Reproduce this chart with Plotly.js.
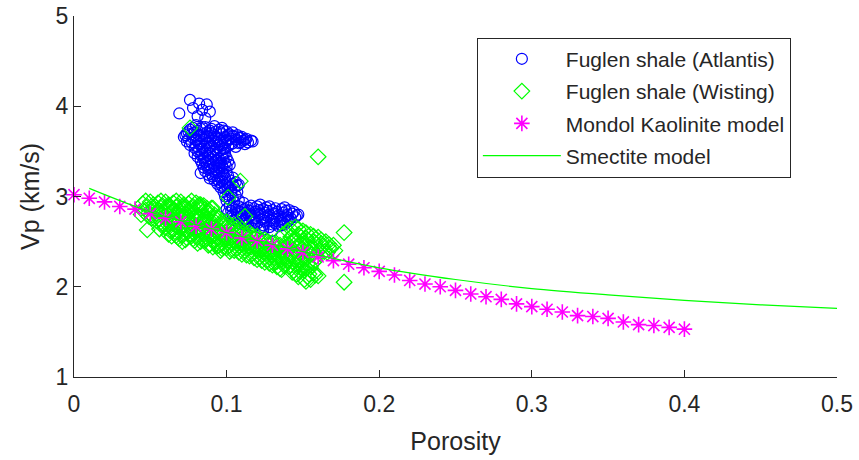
<!DOCTYPE html>
<html><head><meta charset="utf-8">
<script src="https://cdn.plot.ly/plotly-3.0.1.min.js"></script>
<style>html,body{margin:0;padding:0;background:#fff}#chart{width:859px;height:460px}</style>
</head><body><div id="chart"></div>
<script>
// ---------- data ----------
const atlantisPorosity = [
 0.069,0.076,0.078,0.082,0.084,0.087,0.089,0.081,0.086,
 0.080,0.086,0.092,
 0.076,0.083,0.089,0.095,0.100,
 0.074,0.079,0.085,0.090,0.096,0.102,0.107,
 0.072,0.078,0.083,0.088,0.093,0.099,0.104,0.109,0.113,
 0.074,0.080,0.085,0.091,0.096,0.101,0.106,0.111,0.116,
 0.076,0.082,0.087,0.092,0.097,0.103,0.108,0.112,
 0.079,0.084,0.089,0.094,0.099,
 0.081,0.086,0.091,0.096,
 0.083,0.088,0.093,0.098,
 0.085,0.090,0.095,0.100,
 0.086,0.091,0.096,0.101,
 0.087,0.092,0.097,0.102,
 0.088,0.093,0.098,
 0.083,0.090,0.095,0.100,
 0.091,0.096,0.101,
 0.092,0.097,0.102,0.106,
 0.094,0.099,0.104,
 0.096,0.101,0.105,
 0.098,0.103,0.107,
 0.099,0.104,
 0.100,0.105,0.111,
 0.102,0.108,0.116,0.122,0.128,
 0.100,0.106,0.112,0.118,0.124,0.130,0.136,0.141,
 0.101,0.107,0.113,0.119,0.125,0.131,0.137,0.143,0.147,
 0.103,0.109,0.115,0.121,0.127,0.133,0.139,0.145,
 0.105,0.111,0.117,0.123,0.129,0.135,0.141,
 0.108,0.114,0.120,0.126,0.132,0.138,
 0.116,0.122,0.128,0.134,
 0.124,0.130,
 0.078,0.084,0.090,0.097,
 0.075,0.081,0.087,0.093,0.098,0.104,
 0.073,0.077,0.082,0.087,0.092,0.097,0.101,0.105,0.110,
 0.075,0.080,0.086,0.090,0.095,0.100,0.103,0.108,0.112,0.117,
 0.077,0.083,0.088,0.093,0.099,0.104,0.109,0.114,
 0.080,0.085,0.090,0.095,0.101,0.106,
 0.082,0.087,0.093,0.098,
 0.079,0.084,0.089,0.094,0.099,
 0.081,0.086,0.091,0.097,
 0.083,0.088,0.093,0.098,
 0.084,0.089,0.094,0.099,
 0.085,0.090,0.095,0.100,
 0.086,0.092,0.097,
 0.088,0.093,0.098,
 0.089,0.094,0.099,0.104,
 0.095,0.100,0.108,
 0.097,0.102,0.107,
 0.099,0.103,
 0.101,0.106,
 0.102,0.108,
 0.104,0.110,0.114,0.120,0.126,0.132,0.138,
 0.103,0.109,0.115,0.121,0.127,0.133,0.139,0.144,
 0.104,0.110,0.116,0.122,0.128,0.134,0.140,0.146,
 0.106,0.112,0.118,0.124,0.130,0.136,0.142,
 0.107,0.113,0.119,0.125,0.131,0.137,0.140,
 0.112,0.118,0.124,0.130,0.136
];
const atlantisVp = [
 3.92,4.07,3.98,4.03,3.96,4.02,3.94,3.89,3.87,
 3.79,3.77,3.78,
 3.74,3.75,3.73,3.74,3.72,
 3.70,3.71,3.69,3.70,3.71,3.69,3.68,
 3.66,3.65,3.67,3.66,3.65,3.66,3.67,3.65,3.64,
 3.61,3.62,3.63,3.62,3.61,3.62,3.63,3.62,3.62,
 3.57,3.58,3.59,3.58,3.57,3.58,3.59,3.58,
 3.54,3.53,3.55,3.54,3.53,
 3.50,3.49,3.50,3.51,
 3.46,3.45,3.46,3.47,
 3.42,3.41,3.42,3.43,
 3.38,3.37,3.38,3.39,
 3.34,3.33,3.34,3.35,
 3.30,3.29,3.31,
 3.26,3.25,3.26,3.27,
 3.22,3.21,3.23,
 3.18,3.17,3.18,3.16,
 3.14,3.13,3.14,
 3.10,3.09,3.10,
 3.05,3.04,3.05,
 3.00,2.99,
 2.95,2.94,2.93,
 2.90,2.89,2.90,2.91,2.89,
 2.86,2.85,2.86,2.87,2.86,2.85,2.86,2.85,
 2.82,2.81,2.82,2.83,2.82,2.81,2.82,2.81,2.80,
 2.78,2.77,2.78,2.79,2.78,2.77,2.78,2.77,
 2.74,2.73,2.74,2.75,2.74,2.73,2.74,
 2.70,2.69,2.70,2.71,2.70,2.69,
 2.66,2.65,2.66,2.67,
 2.63,2.62,
 3.76,3.77,3.75,3.76,
 3.72,3.73,3.71,3.72,3.73,3.71,
 3.68,3.69,3.68,3.67,3.68,3.69,3.68,3.67,3.66,
 3.64,3.63,3.64,3.65,3.64,3.63,3.64,3.65,3.63,3.61,
 3.60,3.59,3.60,3.61,3.60,3.59,3.60,3.60,
 3.56,3.55,3.56,3.57,3.56,3.55,
 3.52,3.51,3.52,3.53,
 3.48,3.47,3.48,3.49,3.48,
 3.44,3.43,3.44,3.45,
 3.40,3.39,3.40,3.41,
 3.36,3.35,3.36,3.37,
 3.32,3.31,3.32,3.33,
 3.28,3.27,3.28,
 3.24,3.23,3.24,
 3.20,3.19,3.20,3.21,
 3.16,3.15,3.13,
 3.12,3.11,3.12,
 3.08,3.07,
 3.02,3.01,
 2.97,2.96,
 2.88,2.87,2.88,2.89,2.88,2.87,2.88,
 2.84,2.83,2.84,2.85,2.84,2.83,2.84,2.83,
 2.80,2.79,2.80,2.81,2.80,2.79,2.80,2.79,
 2.76,2.75,2.76,2.77,2.76,2.75,2.76,
 2.72,2.71,2.72,2.73,2.72,2.71,2.72,
 2.68,2.67,2.68,2.69,2.68
];
const wistingPorosity = [
 0.045,0.047,0.044,
 0.050,0.052,0.049,0.051,
 0.055,0.057,0.054,0.056,0.058,
 0.060,0.062,0.059,0.061,0.063,0.060,0.062,
 0.065,0.067,0.064,0.066,0.068,0.065,0.067,0.069,
 0.070,0.072,0.069,0.071,0.073,0.070,0.072,0.074,0.071,
 0.075,0.077,0.074,0.076,0.078,0.075,0.077,0.079,
 0.080,0.082,0.079,0.081,0.083,0.080,0.082,0.084,0.081,
 0.085,0.087,0.084,0.086,0.088,0.085,0.087,0.089,
 0.090,0.092,0.089,0.091,0.093,0.090,0.092,0.094,
 0.095,0.097,0.094,0.096,0.098,0.095,0.097,
 0.100,0.102,0.099,0.101,0.103,0.100,0.102,
 0.105,0.107,0.104,0.106,0.108,0.105,
 0.110,0.112,0.109,0.111,0.113,0.110,
 0.115,0.117,0.114,0.116,0.118,0.115,
 0.120,0.122,0.119,0.121,0.123,0.120,
 0.125,0.127,0.124,0.126,0.128,0.125,
 0.130,0.132,0.129,0.131,0.133,0.130,
 0.135,0.137,0.134,0.136,0.138,0.135,
 0.140,0.142,0.139,0.141,0.143,0.140,0.142,0.144,
 0.145,0.147,0.144,0.146,0.148,0.145,0.147,0.149,0.146,
 0.150,0.152,0.149,0.151,0.153,0.150,0.152,0.154,0.151,
 0.155,0.157,0.154,0.156,0.158,0.155,0.157,0.155,
 0.160,0.162,0.161,0.160,
 0.165,0.167,0.166,
 0.170,0.171,
 0.048,0.056,0.076,0.109,0.101,0.091,0.083,0.112,0.160,0.177,0.177,
 0.047,0.048,0.046,0.049,
 0.052,0.053,0.051,0.054,
 0.057,0.058,0.056,0.059,0.057,0.058,
 0.062,0.063,0.061,0.064,0.062,0.063,0.064,
 0.067,0.068,0.066,0.069,0.067,0.068,0.066,0.068,
 0.072,0.073,0.071,0.074,0.072,0.073,0.071,0.073,
 0.077,0.078,0.076,0.079,0.077,0.078,0.076,0.078,
 0.082,0.083,0.081,0.084,0.082,0.083,0.081,0.083,
 0.087,0.088,0.086,0.089,0.087,0.088,0.086,0.088,
 0.092,0.093,0.091,0.094,0.092,0.093,0.091,
 0.097,0.098,0.096,0.099,0.097,0.098,0.096,
 0.102,0.103,0.101,0.104,0.102,0.103,
 0.107,0.108,0.106,0.109,0.107,0.108,
 0.112,0.113,0.111,0.114,0.112,0.113,
 0.117,0.118,0.116,0.119,0.117,0.118,
 0.122,0.123,0.121,0.124,0.122,0.123,
 0.127,0.128,0.126,0.129,0.127,0.128,
 0.132,0.133,0.131,0.134,0.132,0.133,
 0.137,0.138,0.136,0.139,0.137,0.138,0.136,
 0.142,0.143,0.141,0.144,0.142,0.143,0.141,0.143,
 0.147,0.148,0.146,0.149,0.147,0.148,0.146,0.148,0.147,
 0.152,0.153,0.151,0.154,0.152,0.153,0.151,0.153,0.152,
 0.157,0.158,0.156,0.159,0.157,0.158,
 0.162,0.163,0.164,
 0.167,0.168
];
const wistingVp = [
 2.92,2.85,2.80,
 2.94,2.88,2.82,2.76,
 2.93,2.87,2.81,2.75,2.70,
 2.94,2.89,2.83,2.77,2.71,2.65,2.58,
 2.93,2.88,2.82,2.76,2.70,2.64,2.57,2.53,
 2.94,2.89,2.84,2.78,2.72,2.66,2.60,2.54,2.50,
 2.92,2.86,2.80,2.74,2.68,2.62,2.56,2.51,
 2.93,2.88,2.82,2.76,2.70,2.64,2.58,2.52,2.48,
 2.90,2.84,2.78,2.72,2.66,2.60,2.54,2.47,
 2.87,2.80,2.74,2.68,2.62,2.56,2.50,2.45,
 2.76,2.70,2.64,2.58,2.52,2.46,2.42,
 2.72,2.66,2.60,2.54,2.48,2.43,2.39,
 2.68,2.62,2.56,2.50,2.45,2.40,
 2.64,2.58,2.52,2.47,2.42,2.36,
 2.60,2.54,2.49,2.44,2.38,2.34,
 2.56,2.50,2.45,2.40,2.35,2.30,
 2.52,2.47,2.42,2.37,2.32,2.27,
 2.49,2.44,2.38,2.33,2.28,2.24,
 2.46,2.41,2.35,2.30,2.25,2.20,
 2.62,2.55,2.48,2.42,2.36,2.30,2.24,2.18,
 2.66,2.58,2.50,2.44,2.38,2.32,2.26,2.20,2.14,
 2.62,2.54,2.47,2.40,2.33,2.27,2.21,2.14,2.08,
 2.58,2.50,2.43,2.36,2.29,2.22,2.15,2.08,
 2.55,2.48,2.41,2.12,
 2.50,2.43,2.38,
 2.46,2.40,
 2.63,2.64,3.76,3.17,2.99,2.87,2.91,2.78,3.44,2.60,2.05,
 2.95,2.89,2.83,2.78,
 2.91,2.85,2.79,2.73,
 2.95,2.90,2.84,2.78,2.72,2.67,
 2.91,2.86,2.80,2.74,2.68,2.62,2.56,
 2.95,2.90,2.85,2.79,2.73,2.67,2.61,2.55,
 2.91,2.86,2.81,2.75,2.69,2.63,2.57,2.52,
 2.95,2.89,2.83,2.77,2.71,2.65,2.59,2.53,
 2.91,2.85,2.79,2.73,2.67,2.61,2.55,2.50,
 2.87,2.81,2.75,2.69,2.63,2.57,2.51,2.46,
 2.77,2.71,2.65,2.59,2.53,2.47,2.44,
 2.73,2.67,2.61,2.55,2.49,2.44,2.40,
 2.69,2.63,2.57,2.51,2.46,2.41,
 2.65,2.59,2.53,2.48,2.43,2.38,
 2.61,2.55,2.50,2.45,2.40,2.35,
 2.57,2.52,2.47,2.42,2.37,2.32,
 2.53,2.48,2.43,2.38,2.33,2.29,
 2.50,2.45,2.40,2.35,2.30,2.26,
 2.47,2.42,2.37,2.32,2.27,2.22,
 2.58,2.44,2.39,2.33,2.28,2.23,2.19,
 2.64,2.56,2.46,2.40,2.34,2.28,2.22,2.16,
 2.64,2.56,2.49,2.42,2.35,2.29,2.23,2.17,2.11,
 2.60,2.52,2.45,2.38,2.31,2.25,2.18,2.11,2.06,
 2.56,2.49,2.42,2.34,2.27,2.13,
 2.52,2.45,2.39,
 2.47,2.42
];
const mondolPorosity = [0,0.01,0.02,0.03,0.04,0.05,0.06,0.07,0.08,0.09,0.10,0.11,0.12,0.13,0.14,0.15,0.16,0.17,0.18,0.19,0.20,0.21,0.22,0.23,0.24,0.25,0.26,0.27,0.28,0.29,0.30,0.31,0.32,0.33,0.34,0.35,0.36,0.37,0.38,0.39,0.40];
const mondolVp = [3.02,2.98,2.94,2.89,2.86,2.81,2.76,2.72,2.67,2.64,2.60,2.54,2.51,2.46,2.42,2.38,2.33,2.29,2.25,2.21,2.17,2.13,2.07,2.03,2.00,1.96,1.92,1.89,1.86,1.81,1.78,1.75,1.72,1.68,1.67,1.65,1.61,1.58,1.57,1.55,1.53];
const smectitePorosity = [0.01,0.05,0.10,0.15,0.20,0.25,0.30,0.35,0.40,0.45,0.50];
const smectiteVp = [3.09,2.83,2.60,2.39,2.21,2.08,1.98,1.91,1.85,1.80,1.76];
const xTicks = [0,0.1,0.2,0.3,0.4,0.5];
const yTicks = [1,2,3,4,5];
const seriesNames = ['Fuglen shale (Atlantis)','Fuglen shale (Wisting)','Mondol Kaolinite model','Smectite model'];

// ---------- chart ----------
const FONT = 'Liberation Sans, Arial, Helvetica, sans-serif';
const AX = '#262626';
const traces = [
  {x: atlantisPorosity, y: atlantisVp, name: seriesNames[0], type: 'scatter', mode: 'markers',
   legendgroup: 'a', marker: {symbol: 'circle-open', size: 11, color: '#0000ff', line: {color: '#0000ff', width: 1.2}}},
  {x: wistingPorosity, y: wistingVp, name: seriesNames[1], type: 'scatter', mode: 'markers',
   legendgroup: 'b', marker: {symbol: 'diamond-open', size: 12, color: '#00ff00', line: {color: '#00ff00', width: 1.2}}},
  {x: mondolPorosity, y: mondolVp, name: seriesNames[2], type: 'scatter', mode: 'markers', cliponaxis: false,
   legendgroup: 'c', marker: {symbol: 'asterisk-open', size: 13, color: '#ff00ff', line: {color: '#ff00ff', width: 1.6}}},
  {x: smectitePorosity, y: smectiteVp, name: seriesNames[3], type: 'scatter', mode: 'lines',
   legendgroup: 'd', line: {color: '#00ff00', width: 1.2, shape: 'spline', smoothing: 0.8}}
];
const layout = {
  width: 859, height: 460,
  margin: {l: 74, r: 22, t: 16, b: 83},
  paper_bgcolor: '#fff', plot_bgcolor: '#fff',
  font: {family: FONT, color: AX, size: 22},
  showlegend: true,
  legend: {x: 0.528, y: 0.94, xanchor: 'left', yanchor: 'top', bgcolor: '#fff',
    bordercolor: AX, borderwidth: 1, font: {family: FONT, size: 21, color: AX},
    itemwidth: 78, traceorder: 'grouped', tracegroupgap: 2},
  xaxis: {range: [0, 0.5], tickvals: xTicks, showgrid: false, zeroline: false,
    showline: true, linecolor: AX, linewidth: 1, ticks: 'inside', ticklen: 7, tickcolor: AX,
    tickfont: {family: FONT, size: 23, color: AX}, mirror: false, automargin: false,
    ticklabelstandoff: 6,
    title: {text: 'Porosity', font: {family: FONT, size: 25, color: AX}, standoff: 16}},
  yaxis: {range: [1, 5], tickvals: yTicks, showgrid: false, zeroline: false,
    showline: true, linecolor: AX, linewidth: 1, ticks: 'inside', ticklen: 7, tickcolor: AX,
    tickfont: {family: FONT, size: 23, color: AX}, mirror: false, automargin: false,
    title: {text: 'Vp (km/s)', font: {family: FONT, size: 25, color: AX}, standoff: 8}},
  hovermode: false
};
Plotly.newPlot('chart', traces, layout, {displayModeBar: false, staticPlot: true});
</script>
</body></html>
